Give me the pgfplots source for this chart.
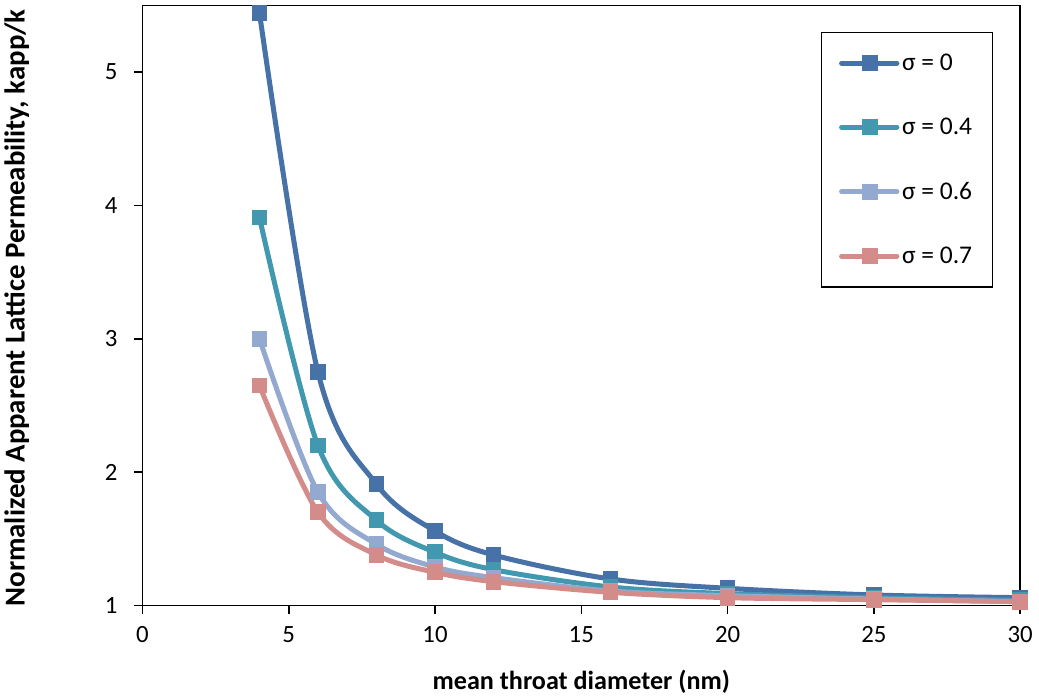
\documentclass[border=0pt]{standalone}
\usepackage{pgfplots}
\pgfplotsset{compat=1.18}
\usepackage{fontspec}
\setmainfont{Carlito}
\definecolor{cA}{RGB}{70,114,168}
\definecolor{cB}{RGB}{65,152,175}
\definecolor{cC}{RGB}{147,169,207}
\definecolor{cD}{RGB}{211,140,138}
\begin{document}
\begin{tikzpicture}
\begin{axis}[
  scale only axis,
  width=654.75pt, height=447.75pt,
  xmin=0, xmax=30, ymin=1, ymax=5.5,
  xtick={0,5,...,30}, ytick={1,2,3,4,5},
  tick align=outside, tick pos=left,
  major tick length=6pt,
  axis line style={line width=1.2pt},
  tick style={line width=1.2pt, black},
  /pgf/number format/assume math mode=true,
  ticklabel style={font=\fontsize{18.5}{21}\selectfont},
  xticklabel style={yshift=-6pt},
  yticklabel style={xshift=-9pt},
  xlabel={\textbf{mean throat diameter (nm)}},
  ylabel={\textbf{Normalized Apparent Lattice Permeability, kapp/k}},
  xlabel style={font=\fontsize{19.5}{21}\selectfont, at={(axis description cs:0.5,-0.127)}, anchor=center},
  ylabel style={font=\fontsize{21.5}{23}\selectfont, at={(axis description cs:-0.143,0.496)}, anchor=center},
  legend style={at={(0.773,0.956)}, anchor=north west, draw=black, line width=1pt,
    font=\fontsize{19}{21}\selectfont, row sep=30pt, inner ysep=14pt, inner xsep=13pt,
    cells={anchor=west}},
  legend image code/.code={
    \draw[#1, line width=3.75pt, line cap=round] (0cm,0cm) -- (1.45cm,0cm);
    \draw[#1, mark repeat=2, mark phase=2] plot coordinates {(0cm,0cm) (0.75cm,0cm) (1.45cm,0cm)};
  },
  every axis plot/.append style={line width=3.75pt, smooth, tension=0.55, mark=square*, mark size=5.5pt, mark options={line width=0pt}},
]
\addplot[color=cA] coordinates {(4,5.445) (6,2.75) (8,1.91) (10,1.56) (12,1.38) (16,1.20) (20,1.13) (25,1.08) (30,1.06)};
\addlegendentry{σ = 0}
\addplot[color=cB] coordinates {(4,3.91) (6,2.20) (8,1.64) (10,1.40) (12,1.27) (16,1.14) (20,1.09) (25,1.06) (30,1.04)};
\addlegendentry{σ = 0.4}
\addplot[color=cC] coordinates {(4,3.00) (6,1.85) (8,1.46) (10,1.29) (12,1.21) (16,1.11) (20,1.075) (25,1.05) (30,1.03)};
\addlegendentry{σ = 0.6}
\addplot[color=cD] coordinates {(4,2.65) (6,1.70) (8,1.38) (10,1.25) (12,1.18) (16,1.10) (20,1.06) (25,1.045) (30,1.03)};
\addlegendentry{σ = 0.7}
\end{axis}
\path ([xshift=14pt,yshift=4pt]current axis.north east);
\end{tikzpicture}
\end{document}
